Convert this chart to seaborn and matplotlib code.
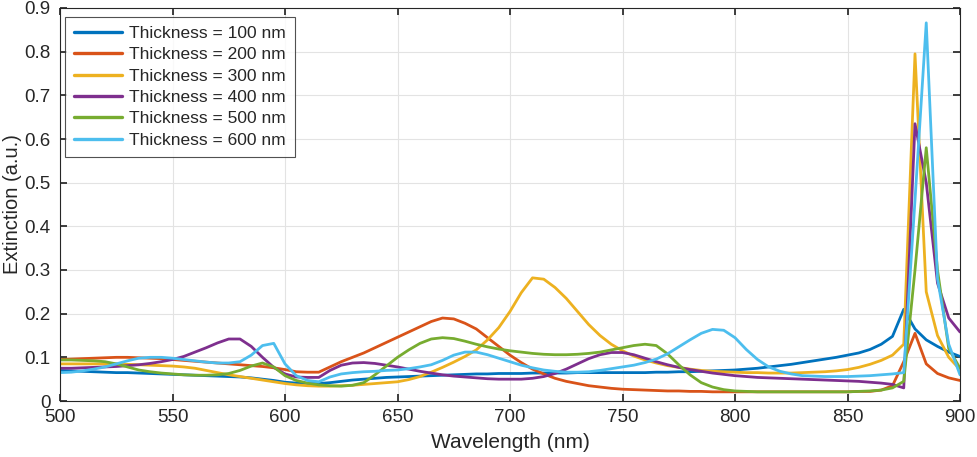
import numpy as np
import pandas as pd
import matplotlib
matplotlib.use("Agg")
import matplotlib.pyplot as plt
import seaborn as sns

wavelength = list(range(500, 905, 5))

t100 = [0.070, 0.069, 0.068, 0.067, 0.066, 0.065, 0.065, 0.064, 0.063, 0.062,
        0.061, 0.060, 0.059, 0.058, 0.057, 0.056, 0.055, 0.053, 0.050, 0.047,
        0.043, 0.041, 0.040, 0.040, 0.042, 0.045, 0.048, 0.050, 0.052, 0.054,
        0.055, 0.056, 0.057, 0.058, 0.059, 0.060, 0.061, 0.062, 0.062, 0.063,
        0.063, 0.063, 0.064, 0.064, 0.064, 0.064, 0.065, 0.065, 0.065, 0.065,
        0.065, 0.065, 0.065, 0.066, 0.066, 0.067, 0.067, 0.068, 0.069, 0.070,
        0.071, 0.073, 0.075, 0.078, 0.081, 0.084, 0.088, 0.092, 0.096, 0.100,
        0.105, 0.110, 0.118, 0.130, 0.148, 0.210, 0.165, 0.140, 0.125, 0.112,
        0.102]
t200 = [0.095, 0.096, 0.097, 0.098, 0.099, 0.100, 0.100, 0.099, 0.098, 0.097,
        0.095, 0.093, 0.091, 0.089, 0.087, 0.085, 0.083, 0.081, 0.079, 0.076,
        0.072, 0.067, 0.066, 0.066, 0.078, 0.090, 0.100, 0.110, 0.122, 0.134,
        0.146, 0.158, 0.170, 0.182, 0.190, 0.188, 0.178, 0.165, 0.145, 0.125,
        0.105, 0.088, 0.073, 0.062, 0.052, 0.045, 0.040, 0.035, 0.032, 0.029,
        0.027, 0.026, 0.025, 0.024, 0.023, 0.023, 0.022, 0.022, 0.021, 0.021,
        0.021, 0.021, 0.021, 0.021, 0.021, 0.021, 0.021, 0.021, 0.021, 0.021,
        0.021, 0.022, 0.022, 0.025, 0.035, 0.090, 0.155, 0.085, 0.063, 0.053,
        0.047]
t300 = [0.085, 0.085, 0.085, 0.085, 0.085, 0.085, 0.084, 0.083, 0.082, 0.081,
        0.080, 0.078, 0.075, 0.070, 0.065, 0.060, 0.056, 0.052, 0.048, 0.044,
        0.040, 0.037, 0.035, 0.034, 0.034, 0.035, 0.036, 0.038, 0.040, 0.042,
        0.044, 0.049, 0.056, 0.066, 0.077, 0.089, 0.102, 0.117, 0.140, 0.168,
        0.205, 0.248, 0.282, 0.279, 0.260, 0.235, 0.205, 0.175, 0.150, 0.130,
        0.115, 0.103, 0.094, 0.087, 0.081, 0.077, 0.073, 0.070, 0.068, 0.067,
        0.066, 0.065, 0.065, 0.064, 0.064, 0.064, 0.065, 0.066, 0.067, 0.069,
        0.072, 0.077, 0.084, 0.093, 0.105, 0.130, 0.795, 0.250, 0.150, 0.100,
        0.072]
t400 = [0.075, 0.075, 0.076, 0.077, 0.078, 0.079, 0.081, 0.083, 0.086, 0.090,
        0.095, 0.102, 0.112, 0.122, 0.133, 0.142, 0.142, 0.125, 0.100, 0.077,
        0.062, 0.055, 0.054, 0.054, 0.070, 0.082, 0.087, 0.088, 0.086, 0.082,
        0.078, 0.073, 0.068, 0.064, 0.060, 0.057, 0.055, 0.053, 0.051, 0.050,
        0.050, 0.050, 0.052, 0.056, 0.063, 0.073, 0.085, 0.097, 0.106, 0.111,
        0.111, 0.106, 0.098, 0.090, 0.083, 0.077, 0.072, 0.068, 0.064, 0.061,
        0.058, 0.056, 0.054, 0.053, 0.052, 0.051, 0.050, 0.049, 0.048, 0.047,
        0.046, 0.045, 0.043, 0.041, 0.038, 0.030, 0.635, 0.500, 0.270, 0.190,
        0.158]
t500 = [0.094, 0.094, 0.093, 0.092, 0.090, 0.085, 0.078, 0.071, 0.067, 0.064,
        0.062, 0.060, 0.059, 0.059, 0.060, 0.063, 0.070, 0.080, 0.087, 0.078,
        0.058, 0.047, 0.041, 0.037, 0.035, 0.034, 0.036, 0.042, 0.060, 0.080,
        0.100, 0.117, 0.132, 0.142, 0.145, 0.143, 0.137, 0.130, 0.124, 0.119,
        0.115, 0.112, 0.109, 0.107, 0.106, 0.106, 0.107, 0.109, 0.112, 0.117,
        0.122, 0.127, 0.130, 0.127, 0.108, 0.083, 0.060, 0.042, 0.032, 0.026,
        0.023, 0.022, 0.021, 0.021, 0.021, 0.021, 0.021, 0.021, 0.021, 0.021,
        0.021, 0.022, 0.023, 0.025, 0.030, 0.045, 0.300, 0.580, 0.300, 0.120,
        0.075]
t600 = [0.065, 0.066, 0.069, 0.073, 0.078, 0.085, 0.092, 0.098, 0.100, 0.100,
        0.098, 0.095, 0.092, 0.089, 0.087, 0.087, 0.090, 0.105, 0.127, 0.132,
        0.085, 0.058, 0.047, 0.044, 0.055, 0.062, 0.065, 0.067, 0.068, 0.070,
        0.071, 0.074, 0.078, 0.083, 0.093, 0.105, 0.112, 0.112, 0.106, 0.098,
        0.090, 0.082, 0.076, 0.071, 0.068, 0.066, 0.066, 0.067, 0.070, 0.074,
        0.078, 0.082, 0.088, 0.096, 0.108, 0.124, 0.140, 0.155, 0.164, 0.162,
        0.145, 0.118, 0.095, 0.078, 0.068, 0.062, 0.058, 0.057, 0.056, 0.056,
        0.056, 0.057, 0.058, 0.060, 0.062, 0.065, 0.460, 0.866, 0.280, 0.130,
        0.060]

labels = ["Thickness = 100 nm", "Thickness = 200 nm", "Thickness = 300 nm",
          "Thickness = 400 nm", "Thickness = 500 nm", "Thickness = 600 nm"]
colors = ["#0072BD", "#D95319", "#EDB120", "#7E2F8E", "#77AC30", "#4DBEEE"]
yticks = [0, 0.1, 0.2, 0.3, 0.4, 0.5, 0.6, 0.7, 0.8, 0.9]
ytick_labels = ["0", "0.1", "0.2", "0.3", "0.4", "0.5", "0.6", "0.7", "0.8", "0.9"]

series = [t100, t200, t300, t400, t500, t600]
df = pd.concat([pd.DataFrame({"Wavelength": wavelength, "Extinction": s, "Series": lab})
                for s, lab in zip(series, labels)], ignore_index=True)

sns.set_theme(style="white")
plt.rcParams["font.family"] = ["Liberation Sans", "DejaVu Sans"]

fig = plt.figure(figsize=(9.77, 4.57), dpi=100)
ax = fig.add_axes([60/977, 56/457, 900/977, 393/457])

sns.lineplot(data=df, x="Wavelength", y="Extinction", hue="Series",
             palette=colors, linewidth=2.0, ax=ax, legend=True)

ax.set_xlim(500, 900)
ax.set_ylim(0, 0.9)
ax.set_xticks(range(500, 901, 50))
ax.set_yticks(yticks)
ax.set_yticklabels(ytick_labels)
ax.grid(True, color="#e3e3e3", linewidth=0.8)
ax.set_axisbelow(True)
for sp in ax.spines.values():
    sp.set_color("#262626")
    sp.set_linewidth(0.8)
ax.tick_params(axis="both", direction="in", length=5, labelsize=13.5,
               colors="#262626", top=True, right=True, bottom=True, left=True,
               labeltop=False, labelright=False)
ax.tick_params(axis="x", pad=6)
ax.tick_params(axis="y", pad=7)
ax.set_xlabel("Wavelength (nm)", fontsize=15, color="#262626", labelpad=5)
ax.set_ylabel("Extinction (a.u.)", fontsize=14.5, color="#262626")
ax.yaxis.set_label_coords(-0.042, 0.5)

leg = ax.legend(loc="upper left", bbox_to_anchor=(5/900, 1 - 9/393), borderaxespad=0,
                frameon=True, fancybox=False, edgecolor="#262626",
                handlelength=2.8, labelspacing=0.36, borderpad=0.5,
                handletextpad=0.4, prop={"family": ["Liberation Sans", "DejaVu Sans"], "size": 12.5})
leg.get_frame().set_linewidth(0.8)
for line in leg.get_lines():
    line.set_linewidth(2.4)

fig.savefig("out.png", dpi=100)
